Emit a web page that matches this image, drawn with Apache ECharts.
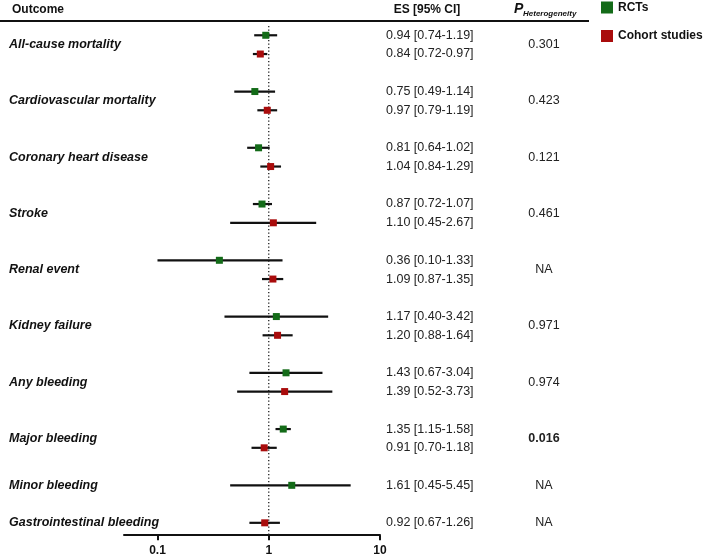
<!DOCTYPE html>
<html>
<head>
<meta charset="utf-8">
<script src="https://cdn.jsdelivr.net/npm/echarts@6/dist/echarts.min.js"></script>
<style>
  html, body { margin: 0; padding: 0; background: #fff; }
  #chart { width: 708px; height: 557px; }
</style>
</head>
<body>
<div id="chart"></div>
<script>
var outcomes = ['All-cause mortality', 'Cardiovascular mortality', 'Coronary heart disease', 'Stroke',
  'Renal event', 'Kidney failure', 'Any bleeding', 'Major bleeding', 'Minor bleeding', 'Gastrointestinal bleeding'];
var rctES     = [0.94, 0.75, 0.81, 0.87, 0.36, 1.17, 1.43, 1.35, 1.61, null];
var rctLow    = [0.74, 0.49, 0.64, 0.72, 0.10, 0.40, 0.67, 1.15, 0.45, null];
var rctHigh   = [1.19, 1.14, 1.02, 1.07, 1.33, 3.42, 3.04, 1.58, 5.45, null];
var cohortES   = [0.84, 0.97, 1.04, 1.10, 1.09, 1.20, 1.39, 0.91, null, 0.92];
var cohortLow  = [0.72, 0.79, 0.84, 0.45, 0.87, 0.88, 0.52, 0.70, null, 0.67];
var cohortHigh = [0.97, 1.19, 1.29, 2.67, 1.35, 1.64, 3.73, 1.18, null, 1.26];
var pHet = ['0.301', '0.423', '0.121', '0.461', 'NA', '0.971', '0.974', '0.016', 'NA', 'NA'];
var pBold = [false, false, false, false, false, false, false, true, false, false];
var xTicks = [0.1, 1, 10];
var refValue = 1;

var FONT = '"Liberation Sans", Arial, sans-serif';
var GREEN = '#136b18', RED = '#a90c0c';

// one category row per estimate, plus a blank row between outcomes
var rows = [], rctData = [], cohortData = [], groupData = [];
outcomes.forEach(function (name, i) {
  var first = rows.length;
  if (rctES[i] != null) {
    rctData.push([rctES[i], rctLow[i], rctHigh[i], rows.length]);
    rows.push(name + ' RCT');
  }
  if (cohortES[i] != null) {
    cohortData.push([cohortES[i], cohortLow[i], cohortHigh[i], rows.length]);
    rows.push(name + ' cohort');
  }
  groupData.push([1, first, rows.length - 1, i]);
  if (i < outcomes.length - 1) rows.push(name + ' gap');
});

function ciItem(params, api) {
  var row = api.value(3);
  var y = api.coord([1, row])[1];
  var lo = api.coord([api.value(1), row])[0];
  var hi = api.coord([api.value(2), row])[0];
  var mid = api.coord([api.value(0), row])[0];
  var txt = api.value(0).toFixed(2) + ' [' + api.value(1).toFixed(2) + '-' + api.value(2).toFixed(2) + ']';
  return {
    type: 'group',
    children: [
      { type: 'line', shape: { x1: lo, y1: y, x2: hi, y2: y }, style: { stroke: '#111', lineWidth: 2.2 } },
      { type: 'rect', shape: { x: mid - 3.5, y: y - 3.5, width: 7, height: 7 }, style: { fill: api.visual('color') } },
      { type: 'text', x: 386, y: y, style: { text: txt, fill: '#222', fontSize: 12.5, fontFamily: FONT, verticalAlign: 'middle' } }
    ]
  };
}

function groupItem(params, api) {
  var y = (api.coord([1, api.value(1)])[1] + api.coord([1, api.value(2)])[1]) / 2;
  var i = api.value(3);
  var children = [
    { type: 'text', x: 9, y: y, style: { text: outcomes[i], fill: '#111', fontSize: 12.5, fontWeight: 'bold', fontStyle: 'italic',
      fontFamily: FONT, verticalAlign: 'middle' } },
    { type: 'text', x: 544, y: y, style: { text: pHet[i], fill: '#222', fontSize: 12.5, fontWeight: pBold[i] ? 'bold' : 'normal',
      fontFamily: FONT, align: 'center', verticalAlign: 'middle' } }
  ];
  if (params.dataIndex === 0) {
    // dotted line of no effect, full height of the grid
    var cs = params.coordSys;
    var xr = api.coord([refValue, 0])[0];
    children.push({ type: 'line', shape: { x1: xr, y1: cs.y, x2: xr, y2: cs.y + cs.height + 3 },
      style: { stroke: '#222', lineWidth: 1.3, lineDash: [1.3, 2.2] } });
  }
  return { type: 'group', children: children };
}

var myChart = echarts.init(document.getElementById('chart'));

var option = {
  animation: false,
  legend: {
    data: [{ name: 'RCTs', icon: 'rect' }, { name: 'Cohort studies', icon: 'rect' }],
    orient: 'vertical',
    left: 601,
    top: 1.5,
    padding: 0,
    itemWidth: 12,
    itemHeight: 12,
    itemGap: 16.5,
    selectedMode: false,
    textStyle: { color: '#111', fontSize: 12, fontWeight: 'bold', fontFamily: FONT }
  },
  grid: { left: 124, right: 328, top: 25.9, bottom: 24.8 },
  xAxis: {
    type: 'log',
    logBase: 10,
    min: 0.05,
    max: 10,
    offset: 3,
    axisLine: { show: true, onZero: false, lineStyle: { color: '#111', width: 2 } },
    axisTick: { show: true, customValues: xTicks, length: 5, lineStyle: { color: '#111', width: 2 } },
    axisLabel: {
      customValues: xTicks,
      margin: 9,
      color: '#111',
      fontSize: 12,
      fontWeight: 'bold',
      fontFamily: FONT,
      formatter: function (v) { return String(v); }
    },
    splitLine: { show: false },
    minorTick: { show: false }
  },
  yAxis: { type: 'category', data: rows, inverse: true, show: false },
  graphic: [
    { type: 'text', left: 12, top: 3.5, style: { text: 'Outcome', fill: '#111', fontSize: 12, fontWeight: 'bold', fontFamily: FONT } },
    { type: 'text', x: 427, y: 10, style: { text: 'ES [95% CI]', fill: '#111', fontSize: 12, fontWeight: 'bold', fontFamily: FONT,
      align: 'center', verticalAlign: 'middle' } },
    { type: 'text', x: 514, y: 16, style: { text: 'P', fill: '#111', fontSize: 14, fontWeight: 'bold', fontStyle: 'italic',
      fontFamily: FONT, verticalAlign: 'bottom' } },
    { type: 'text', x: 523, y: 18, style: { text: 'Heterogeneity', fill: '#111', fontSize: 8, fontWeight: 'bold', fontStyle: 'italic',
      fontFamily: FONT, verticalAlign: 'bottom' } },
    { type: 'line', shape: { x1: 0, y1: 21, x2: 589, y2: 21 }, style: { stroke: '#111', lineWidth: 2 } }
  ],
  series: [
    {
      name: 'labels',
      type: 'custom',
      clip: false,
      silent: true,
      renderItem: groupItem,
      encode: { x: 0, y: [1, 2] },
      data: groupData,
      z: 1
    },
    {
      name: 'RCTs',
      type: 'custom',
      clip: false,
      itemStyle: { color: GREEN },
      renderItem: ciItem,
      encode: { x: [0, 1, 2], y: 3 },
      data: rctData,
      z: 3
    },
    {
      name: 'Cohort studies',
      type: 'custom',
      clip: false,
      itemStyle: { color: RED },
      renderItem: ciItem,
      encode: { x: [0, 1, 2], y: 3 },
      data: cohortData,
      z: 3
    }
  ]
};

myChart.setOption(option);

window.addEventListener('resize', function () {
  myChart.resize();
});
</script>
</body>
</html>
